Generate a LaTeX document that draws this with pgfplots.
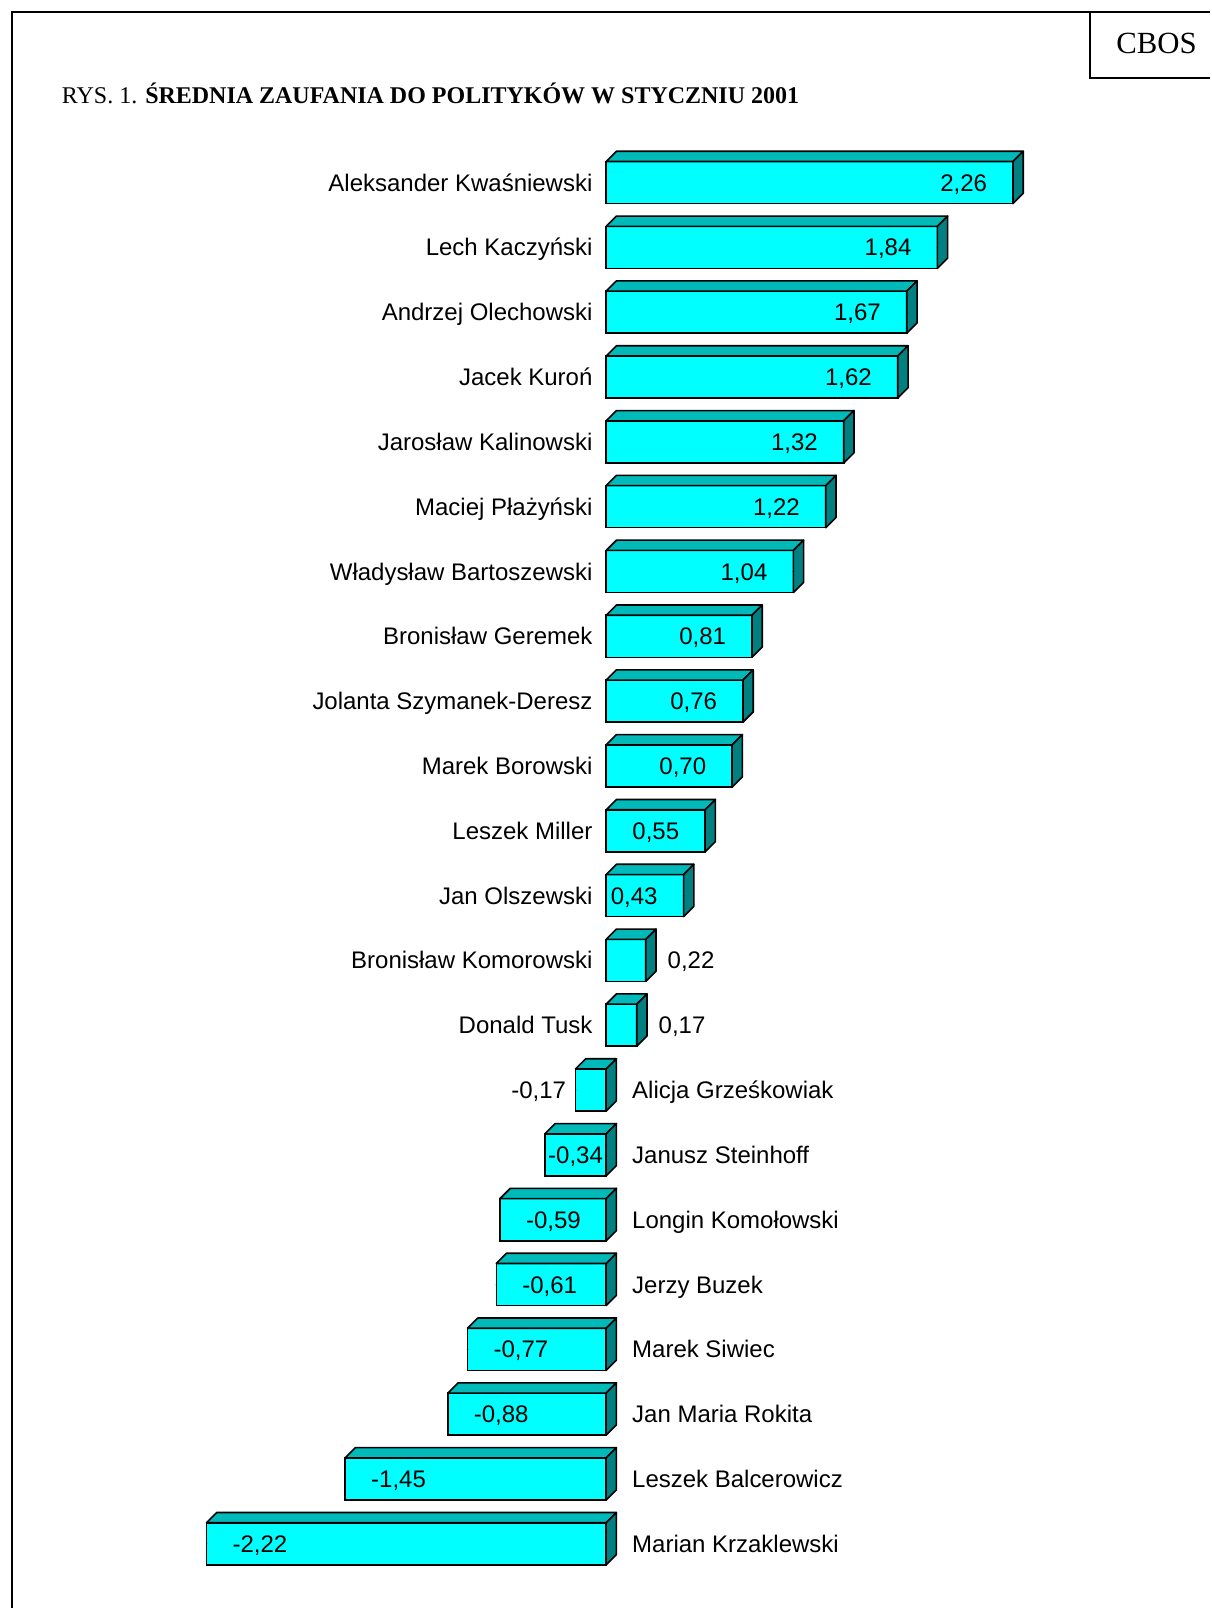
\documentclass[border=0pt]{standalone}
\usepackage{pgfplots}
\pgfplotsset{compat=1.18}
\usepackage{pgfplotstable}
\usepackage{fontspec}
\setmainfont{Liberation Serif}
\newfontfamily\arial{Liberation Sans}

\definecolor{barfront}{HTML}{00FFFF}
\definecolor{bartop}{HTML}{00BABA}
\definecolor{barside}{HTML}{008080}

\tikzset{lbl/.style={font=\arial\fontsize{12}{14}\selectfont, inner sep=0pt,
  text height=8.6pt, text depth=0pt}}

\pgfplotstableread[col sep=comma]{
i,v,name
0,2.26,Aleksander Kwaśniewski
1,1.84,Lech Kaczyński
2,1.67,Andrzej Olechowski
3,1.62,Jacek Kuroń
4,1.32,Jarosław Kalinowski
5,1.22,Maciej Płażyński
6,1.04,Władysław Bartoszewski
7,0.81,Bronisław Geremek
8,0.76,Jolanta Szymanek-Deresz
9,0.70,Marek Borowski
10,0.55,Leszek Miller
11,0.43,Jan Olszewski
12,0.22,Bronisław Komorowski
13,0.17,Donald Tusk
14,-0.17,Alicja Grześkowiak
15,-0.34,Janusz Steinhoff
16,-0.59,Longin Komołowski
17,-0.61,Jerzy Buzek
18,-0.77,Marek Siwiec
19,-0.88,Jan Maria Rokita
20,-1.45,Leszek Balcerowicz
21,-2.22,Marian Krzaklewski
}\zaufanie

\begin{document}
\begin{tikzpicture}
\path (0pt,0pt) rectangle (605.5pt,804.5pt);
% ramka i CBOS
\draw[line width=1pt] (6.16pt,0pt) -- (6.16pt,798.34pt) -- (605.5pt,798.34pt);
\draw[line width=1pt] (605.5pt,765.5pt) -- (545.5pt,765.5pt) -- (545.5pt,798.34pt);
\node[font=\fontsize{15.4}{18}\selectfont, inner sep=0pt] at (578.6pt,782.7pt) {CBOS};
\node[anchor=base west, inner sep=0pt, font=\fontsize{12}{14}\selectfont] at (30.8pt,752.7pt)
  {RYS. 1. \textbf{ŚREDNIA ZAUFANIA DO POLITYKÓW W STYCZNIU 2001}};

\begin{axis}[
  at={(78.12pt,729.38pt)}, anchor=north west,
  x=90.06pt, y=32.43pt, y dir=reverse,
  xmin=-2.5, xmax=2.5, ymin=-0.5, ymax=21.5,
  hide axis, clip=false,
  ]
  \addplot[xbar, bar width=21.04pt, fill=barfront, draw=black, line width=0.8pt]
    table[x=v, y=i] {\zaufanie};
  % boki 3D, etykiety wartosci i nazwiska
  \addplot[scatter, only marks, mark=*, mark size=0.1pt,
    mark options={draw=none, fill=none},
    point meta=explicit symbolic,
    visualization depends on={x \as \val},
    scatter/@pre marker code/.code={%
      \pgfmathsetmacro\L{-1*(\val)*90.06}%
      \pgfmathsetmacro\lo{min(0,\L)}%
      \pgfmathsetmacro\hi{max(0,\L)}%
      \pgfmathsetmacro\loo{\lo+5.13}%
      \pgfmathsetmacro\hii{\hi+5.13}%
      \pgfmathsetmacro\half{\L/2}%
      \pgfmathsetmacro\av{abs(\val)}%
      \pgfmathsetmacro\nxp{\L-6.67}%
      \pgfmathsetmacro\nxn{\L+12.83}%
      \filldraw[fill=bartop, draw=black, line width=0.8pt, line join=round]
        (\lo pt,10.52pt) -- (\hi pt,10.52pt) -- (\hii pt,15.65pt) -- (\loo pt,15.65pt) -- cycle;
      \filldraw[fill=barside, draw=black, line width=0.8pt, line join=round]
        (\hi pt,10.52pt) -- (\hi pt,-10.52pt) -- (\hii pt,-5.39pt) -- (\hii pt,15.65pt) -- cycle;
      % polozenie etykiety: 0 wewnatrz przy koncu, 1 na zewnatrz, 2 srodek
      \ifdim\av pt<0.3pt \def\md{1}%
      \else\ifdim\av pt<0.4pt
        \ifdim\val pt<0pt \def\md{2}\else\def\md{0}\fi
      \else \def\md{0}\fi\fi
      \def\lab{\ifdim\val pt<0pt -\fi\pgfmathprintnumber[fixed, fixed zerofill,
        precision=2, use comma, assume math mode=true]{\av}}%
      \ifdim\val pt>0pt
        \ifcase\md\relax
          \node[lbl, anchor=east] at (-12.83pt,0pt) {\lab};%
        \or
          \node[lbl, anchor=west] at (10.78pt,0pt) {\lab};%
        \else
          \node[lbl] at (\half pt,0pt) {\lab};%
        \fi
        \node[lbl, anchor=east] at (\nxp pt,0pt) {\pgfplotspointmeta};%
      \else
        \ifcase\md\relax
          \node[lbl, anchor=west] at (12.83pt,0pt) {\lab};%
        \or
          \node[lbl, anchor=east] at (-4.62pt,0pt) {\lab};%
        \else
          \node[lbl] at (\half pt,0pt) {\lab};%
        \fi
        \node[lbl, anchor=west] at (\nxn pt,0pt) {\pgfplotspointmeta};%
      \fi
    },
    scatter/@post marker code/.code={}]
    table[x=v, y=i, meta=name] {\zaufanie};
\end{axis}
\end{tikzpicture}
\end{document}
